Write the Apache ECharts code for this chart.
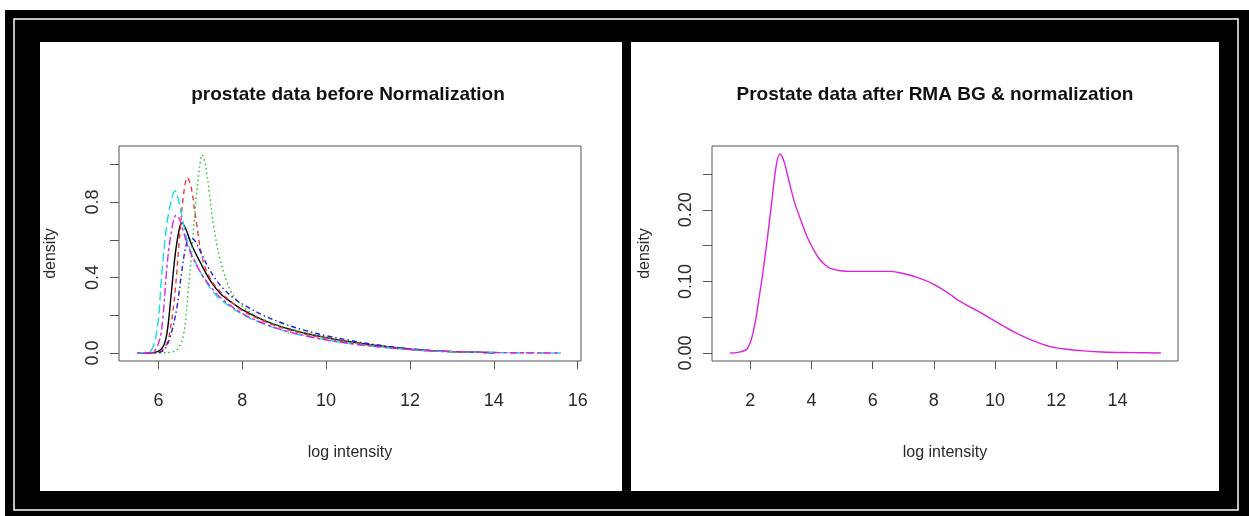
<!DOCTYPE html>
<html>
<head>
<meta charset="utf-8">
<script src="https://cdn.jsdelivr.net/npm/echarts@6/dist/echarts.min.js"></script>
<style>
html,body{margin:0;padding:0;background:#fff;}
#chart{width:1249px;height:516px;}
</style>
</head>
<body>
<div id="chart"></div>
<script>
// ---------- Data ----------
const leftTitle = 'prostate data before Normalization';
const rightTitle = 'Prostate data after RMA BG & normalization';
const xName = 'log intensity';
const yName = 'density';

const leftXTicks = [6, 8, 10, 12, 14, 16];
const leftYTicks = [0, 0.2, 0.4, 0.6, 0.8, 1.0];
const leftYLabels = [0, 0.4, 0.8];
const rightXTicks = [2, 4, 6, 8, 10, 12, 14];
const rightYTicks = [0, 0.05, 0.10, 0.15, 0.20, 0.25];
const rightYLabels = [0, 0.10, 0.20];

// sample densities before normalization: [log intensity, density]
const sampleBlack = [[5.5,0],[5.9,0.003],[6.1,0.03],[6.2,0.1],[6.3,0.3],[6.4,0.52],[6.5,0.66],[6.56,0.69],[6.65,0.66],[6.8,0.57],[7.0,0.48],[7.25,0.38],[7.5,0.31],[7.8,0.26],[8.0,0.23],[8.5,0.175],[9.0,0.135],[9.5,0.105],[10.0,0.082],[10.5,0.062],[11.0,0.046],[11.5,0.032],[12.0,0.021],[12.5,0.013],[13.0,0.008],[13.5,0.005],[14.0,0.002]];
const sampleRed = [[5.6,0],[6.0,0.004],[6.2,0.05],[6.3,0.15],[6.4,0.33],[6.5,0.6],[6.6,0.84],[6.69,0.93],[6.78,0.88],[6.9,0.7],[7.05,0.5],[7.25,0.39],[7.5,0.32],[7.8,0.26],[8.0,0.225],[8.5,0.17],[9.0,0.13],[9.5,0.1],[10.0,0.077],[10.5,0.058],[11.0,0.042],[11.5,0.03],[12.0,0.019],[12.5,0.012],[13.0,0.007],[14.0,0.003],[15.0,0.001],[15.3,0]];
const sampleGreen = [[5.7,0],[6.2,0.002],[6.45,0.02],[6.6,0.1],[6.7,0.3],[6.8,0.55],[6.9,0.82],[6.98,0.98],[7.04,1.05],[7.12,1.0],[7.22,0.84],[7.32,0.67],[7.47,0.5],[7.7,0.34],[7.95,0.26],[8.3,0.2],[8.7,0.16],[9.0,0.138],[9.5,0.108],[10.0,0.083],[10.5,0.063],[11.0,0.046],[11.5,0.032],[12.0,0.021],[12.5,0.013],[13.0,0.008],[13.5,0.004],[14.0,0.002]];
const sampleBlue = [[5.6,0],[6.0,0.003],[6.15,0.02],[6.3,0.1],[6.44,0.24],[6.55,0.42],[6.65,0.56],[6.74,0.61],[6.85,0.6],[7.0,0.54],[7.2,0.45],[7.4,0.38],[7.6,0.33],[7.8,0.29],[8.0,0.26],[8.5,0.2],[9.0,0.155],[9.5,0.12],[10.0,0.092],[10.5,0.07],[11.0,0.051],[11.5,0.035],[12.0,0.023],[12.5,0.014],[13.0,0.008],[13.5,0.005],[14.0,0.002]];
const sampleCyan = [[5.5,0],[5.8,0.01],[5.9,0.05],[6.0,0.18],[6.08,0.42],[6.2,0.68],[6.32,0.82],[6.4,0.86],[6.5,0.79],[6.6,0.68],[6.75,0.55],[7.0,0.43],[7.25,0.34],[7.5,0.28],[8.0,0.205],[8.5,0.155],[9.0,0.118],[9.5,0.09],[10.0,0.069],[10.5,0.052],[11.0,0.038],[11.5,0.027],[12.0,0.018],[12.5,0.011],[13.0,0.007],[14.0,0.003],[15.0,0.001],[15.6,0]];
const sampleMagenta = [[5.5,0],[5.85,0.005],[6.0,0.05],[6.1,0.17],[6.2,0.45],[6.3,0.63],[6.42,0.73],[6.5,0.71],[6.6,0.64],[6.75,0.54],[7.0,0.43],[7.25,0.35],[7.5,0.29],[8.0,0.21],[8.5,0.158],[9.0,0.12],[9.5,0.092],[10.0,0.07],[10.5,0.053],[11.0,0.039],[11.5,0.028],[12.0,0.019],[12.5,0.012],[13.0,0.008],[14.0,0.003],[15.0,0.001],[15.6,0]];

// density after RMA background correction and normalization
const normalized = [[1.34,0],[1.6,0.001],[1.9,0.006],[2.1,0.03],[2.3,0.08],[2.5,0.14],[2.7,0.21],[2.85,0.262],[2.97,0.278],[3.1,0.268],[3.25,0.243],[3.45,0.21],[3.64,0.187],[3.85,0.163],[4.05,0.146],[4.25,0.132],[4.45,0.123],[4.65,0.118],[4.95,0.115],[5.3,0.114],[6.0,0.114],[6.6,0.114],[7.0,0.111],[7.5,0.105],[8.0,0.096],[8.5,0.083],[8.75,0.075],[9.2,0.064],[9.63,0.054],[10.1,0.042],[10.6,0.03],[11.2,0.018],[11.8,0.009],[12.4,0.005],[12.9,0.003],[13.5,0.0015],[14.5,0.0006],[15.42,0]];

// ---------- Chart ----------
const FONT = "'Liberation Sans Narrow','Arial Narrow','Liberation Sans',Arial,sans-serif";
const TXT = '#2a2a2a';
const AX = '#555';

function xAxisCfg(grid, min, max, ticks) {
  return {
    type: 'value', gridIndex: grid, min: min, max: max,
    axisLine: {show: false, onZero: false},
    splitLine: {show: false},
    axisTick: {show: true, customValues: ticks, length: 8, lineStyle: {color: AX, width: 1}},
    axisLabel: {customValues: ticks, color: TXT, fontFamily: FONT, fontSize: 18, margin: 31},
    name: xName, nameLocation: 'middle', nameGap: 84,
    nameTextStyle: {color: TXT, fontFamily: FONT, fontSize: 16}
  };
}
function yAxisCfg(grid, min, max, ticks, labels, digits, gap) {
  return {
    type: 'value', gridIndex: grid, min: min, max: max,
    axisLine: {show: false, onZero: false},
    splitLine: {show: false},
    axisTick: {show: true, customValues: ticks, length: 9, lineStyle: {color: AX, width: 1}},
    axisLabel: {customValues: labels, rotate: 90, color: TXT, fontFamily: FONT, fontSize: 18, margin: 17,
      formatter: v => v.toFixed(digits)},
    name: yName, nameLocation: 'middle', nameGap: gap, nameRotate: 90,
    nameTextStyle: {color: TXT, fontFamily: FONT, fontSize: 16}
  };
}
function lineSeries(data, color, dash, xi) {
  return {
    type: 'line', xAxisIndex: xi, yAxisIndex: xi, data: data,
    smooth: 0.35, showSymbol: false, silent: true,
    lineStyle: {color: color, width: 1.4, type: dash}
  };
}

const chart = echarts.init(document.getElementById('chart'), null, {renderer: 'canvas'});
chart.setOption({
  animation: false,
  backgroundColor: '#fff',
  graphic: [
    {type: 'rect', z: -10, shape: {x: 5, y: 10, width: 1244, height: 506}, style: {fill: '#000'}},
    {type: 'rect', z: -9, shape: {x: 14, y: 19, width: 1224, height: 491}, style: {fill: 'none', stroke: '#fff', lineWidth: 1.5}},
    {type: 'rect', z: -9, shape: {x: 40, y: 42, width: 582, height: 449}, style: {fill: '#fff'}},
    {type: 'rect', z: -9, shape: {x: 631, y: 42, width: 588, height: 449}, style: {fill: '#fff'}},
    {type: 'text', z: 10, x: 348, y: 95, style: {text: leftTitle, fill: '#111', font: "bold 19px " + FONT, textAlign: 'center', textVerticalAlign: 'middle'}},
    {type: 'text', z: 10, x: 935, y: 95, style: {text: rightTitle, fill: '#111', font: "bold 19px " + FONT, textAlign: 'center', textVerticalAlign: 'middle'}}
  ],
  grid: [
    {left: 119, top: 146, width: 462, height: 215, show: true, borderColor: AX, borderWidth: 1, backgroundColor: 'transparent'},
    {left: 712, top: 146, width: 466, height: 215, show: true, borderColor: AX, borderWidth: 1, backgroundColor: 'transparent'}
  ],
  xAxis: [
    xAxisCfg(0, 5.06, 16.08, leftXTicks),
    xAxisCfg(1, 0.75, 15.98, rightXTicks)
  ],
  yAxis: [
    yAxisCfg(0, -0.042, 1.097, leftYTicks, leftYLabels, 1, 60),
    yAxisCfg(1, -0.0111, 0.2891, rightYTicks, rightYLabels, 2, 59)
  ],
  series: [
    lineSeries(sampleBlack, '#000000', 'solid', 0),
    lineSeries(sampleRed, '#f03a3a', [5, 4], 0),
    lineSeries(sampleGreen, '#22c022', [1.5, 3], 0),
    lineSeries(sampleBlue, '#1c1ce0', [1.5, 3, 5, 3], 0),
    lineSeries(sampleCyan, '#12e0e0', [9, 4], 0),
    lineSeries(sampleMagenta, '#e020e0', [3, 3, 8, 3], 0),
    lineSeries(normalized, '#dd22dd', 'solid', 1)
  ]
});
</script>
</body>
</html>
